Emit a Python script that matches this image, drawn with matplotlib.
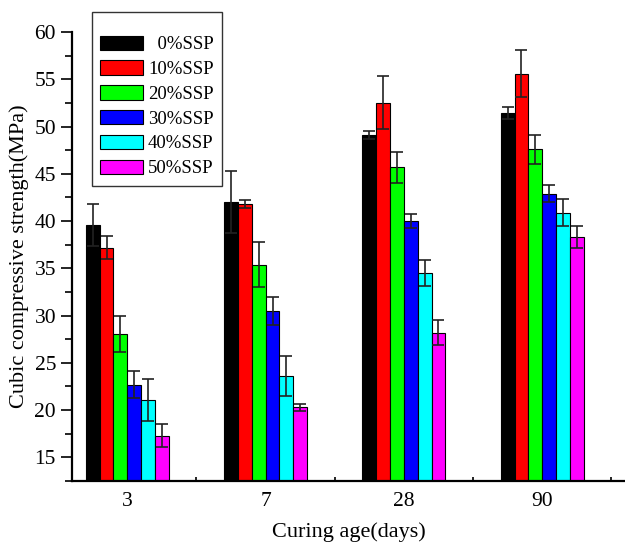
import matplotlib
matplotlib.use("Agg")
import matplotlib.pyplot as plt
from matplotlib.ticker import MultipleLocator
import numpy as np

plt.rcParams["font.family"] = ["Liberation Serif", "DejaVu Serif"]

ages = ["3", "7", "28", "90"]
series = ["0%SSP", "10%SSP", "20%SSP", "30%SSP", "40%SSP", "50%SSP"]
labels = ["  0%SSP", "10%SSP", "20%SSP", "30%SSP", "40%SSP", "50%SSP"]
colors = ["#000000", "#ff0000", "#00ff00", "#0000ff", "#00ffff", "#ff00ff"]

# strength (MPa) per SSP level, across curing ages 3, 7, 28, 90 days
s0 = [39.6, 42.0, 49.1, 51.4]
s10 = [37.2, 41.8, 52.5, 55.6]
s20 = [28.1, 35.4, 45.7, 47.6]
s30 = [22.7, 30.5, 40.0, 42.9]
s40 = [21.1, 23.6, 34.5, 40.9]
s50 = [17.3, 20.3, 28.2, 38.3]
# standard deviations
e0 = [2.2, 3.3, 0.45, 0.65]
e10 = [1.2, 0.45, 2.8, 2.5]
e20 = [1.9, 2.35, 1.65, 1.55]
e30 = [1.4, 1.45, 0.75, 0.9]
e40 = [2.2, 2.1, 1.4, 1.45]
e50 = [1.2, 0.35, 1.3, 1.2]

values = [s0, s10, s20, s30, s40, s50]
errors = [e0, e10, e20, e30, e40, e50]

fig = plt.figure(figsize=(6.25, 5.45), dpi=100)
ax = fig.add_axes([0.1152, 0.1174, 0.885, 0.8238])

x = np.arange(len(ages))
w = 0.1
for i, (vals, errs, col, lab) in enumerate(zip(values, errors, colors, labels)):
    ax.bar(x + (i - 2.5) * w, vals, w, color=col, edgecolor="black", linewidth=0.8,
           label=lab, zorder=2)
    ax.errorbar(x + (i - 2.5) * w, vals, yerr=errs, fmt="none", ecolor="#222222",
                elinewidth=1.2, capsize=4, capthick=1.2, zorder=3)

ax.set_xlim(-0.4, 3.6)
ax.set_ylim(12.5, 60)
ax.set_xticks(x)
ax.set_xticklabels(ages)
ax.xaxis.set_minor_locator(MultipleLocator(0.5))
ax.yaxis.set_major_locator(MultipleLocator(5))
ax.yaxis.set_minor_locator(MultipleLocator(2.5))
ax.tick_params(axis="x", which="both", direction="in", length=3, width=1.2, labelsize=15.5, pad=8)
ax.tick_params(axis="y", which="major", direction="out", length=8, width=1.2, labelsize=15.5)
ax.tick_params(axis="y", which="minor", direction="out", length=5, width=1.2)
for side in ["top", "right"]:
    ax.spines[side].set_visible(False)
for side in ["left", "bottom"]:
    ax.spines[side].set_linewidth(1.6)

ax.set_xlabel("Curing age(days)", fontsize=16, labelpad=8)
ax.set_ylabel("Cubic compressive strength(MPa)", fontsize=16, labelpad=4)

leg = fig.legend(loc="upper left", bbox_to_anchor=(0.147, 0.978), fontsize=13.5,
                 title=" ", title_fontsize=6, frameon=True, fancybox=False,
                 handlelength=2.25, handleheight=0.8, labelspacing=0.38,
                 handletextpad=0.3, borderpad=0.45, borderaxespad=0)
leg.get_frame().set_edgecolor("black")
leg.get_frame().set_linewidth(1.0)

fig.savefig("out.png", dpi=100)
